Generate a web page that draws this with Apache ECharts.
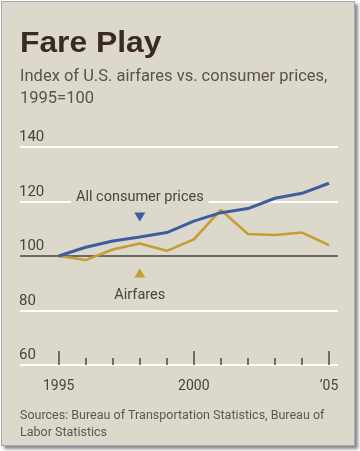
<!DOCTYPE html>
<html>
<head>
<meta charset="utf-8">
<script src="https://cdn.jsdelivr.net/npm/echarts@6/dist/echarts.min.js"></script>
<style>
html,body{margin:0;padding:0;background:#fff;}
#wrap{position:relative;width:360px;height:451px;overflow:hidden;}
#panel{position:absolute;left:1px;top:1px;width:352px;height:443px;background:#dcd8cc;border:1px solid #a9a9a9;box-shadow:3px 3px 3px #8a8a8a;}
#chart{position:absolute;left:0;top:0;width:360px;height:451px;}
</style>
</head>
<body>
<div id="wrap"><div id="panel"></div><div id="chart"></div></div>
<script>
const years = [1995,1996,1997,1998,1999,2000,2001,2002,2003,2004,2005];
const consumerPrices = [100,103.2,105.5,107.0,108.6,112.8,115.9,117.4,121.2,123.0,126.7];
const airfares = [100,98.5,102.4,104.6,101.9,106.1,116.9,108.1,107.7,108.6,104.0];
const yTicks = [60,80,100,120,140];
const xLabels = {1995:'1995',2000:'2000',2005:"\u201905"};

const fam = '"Roboto","Noto Sans",sans-serif';
const chart = echarts.init(document.getElementById('chart'), null, {renderer:'canvas'});
const Y_MIN = 60, Y_MAX = 140;
const option = {
  backgroundColor: 'transparent',
  animation: false,
  title: [
    {text:'Index of U.S. airfares vs. consumer prices,\n1995=100', left:20, top:66, padding:0, textStyle:{fontFamily:fam, fontWeight:'normal', fontSize:16.5, lineHeight:22, color:'#5a524a'}},
    {text:'Sources: Bureau of Transportation Statistics, Bureau of\nLabor Statistics', left:20, top:407, padding:0, textStyle:{fontFamily:fam, fontWeight:'normal', fontSize:12.5, lineHeight:17, color:'#5e5750'}}
  ],
  graphic: [
    {type:'text', x:20, y:29, scaleX:1.06, style:{text:'Fare Play', font:'bold 30px "Liberation Sans", Arial, sans-serif', fill:'#3a2b22', textVerticalAlign:'top'}}
  ],
  grid: [
    {left:20, right:22, top:147, bottom:86},
    {left:58.7, right:31, top:147, bottom:86}
  ],
  xAxis: [
    {gridIndex:0, type:'value', min:0, max:1, show:false},
    {gridIndex:1, type:'value', min:1995, max:2005, interval:5,
      axisLine:{show:false},
      axisTick:{show:true, inside:true, length:14, lineStyle:{color:'#55504a', width:1.6}},
      minorTick:{show:true, splitNumber:5, length:7, lineStyle:{color:'#55504a', width:1.6}},
      splitLine:{show:false},
      axisLabel:{margin:14, fontFamily:fam, fontSize:14, color:'#4a443e', formatter:v=>xLabels[v]||''}
    }
  ],
  yAxis: [
    {gridIndex:0, type:'value', min:Y_MIN, max:Y_MAX, interval:20,
      axisLine:{show:false}, axisTick:{show:false},
      splitLine:{show:true, lineStyle:{color:['#ffffff','#ffffff','#6e6862','#ffffff','#ffffff'], width:2}},
      axisLabel:{inside:true, margin:-1, verticalAlign:'bottom', padding:[0,0,2,0], fontFamily:fam, fontSize:15, color:'#4a443e', formatter:v=>yTicks.includes(v)?String(v):''}
    },
    {gridIndex:1, type:'value', min:Y_MIN, max:Y_MAX, show:false}
  ],
  series: [
    {type:'line', name:'All consumer prices', xAxisIndex:1, yAxisIndex:1, symbol:'none', z:4,
      data: years.map((y,i)=>[y,consumerPrices[i]]),
      lineStyle:{color:'#3f5d9e', width:3},
      markPoint:{silent:true, symbol:'triangle', symbolSize:[11,9], symbolRotate:180,
        itemStyle:{color:'#3f5d9e'},
        label:{show:false},
        data:[{coord:[1998,114.3]}]}
    },
    {type:'line', name:'Airfares', xAxisIndex:1, yAxisIndex:1, symbol:'none', z:3,
      data: years.map((y,i)=>[y,airfares[i]]),
      lineStyle:{color:'#c69d32', width:2.6},
      markPoint:{silent:true, symbol:'triangle', symbolSize:[11,9],
        itemStyle:{color:'#c69d32'},
        label:{show:false},
        data:[{coord:[1998,93.8]}]}
    },
    {type:'scatter', xAxisIndex:1, yAxisIndex:1, data:[], z:6,
      markPoint:{silent:true, symbol:'rect', symbolSize:0,
        label:{show:true, position:'inside', fontFamily:fam, fontSize:14.5, color:'#4a443e',
          backgroundColor:'#dcd8cc', padding:[2,5,2,5]},
        data:[
          {coord:[1998,121.4], value:'All consumer prices', label:{formatter:'All consumer prices'}},
          {coord:[1998,85.6], value:'Airfares', label:{formatter:'Airfares', backgroundColor:'transparent'}}
        ]}
    }
  ]
};
chart.setOption(option);
</script>
</body>
</html>
